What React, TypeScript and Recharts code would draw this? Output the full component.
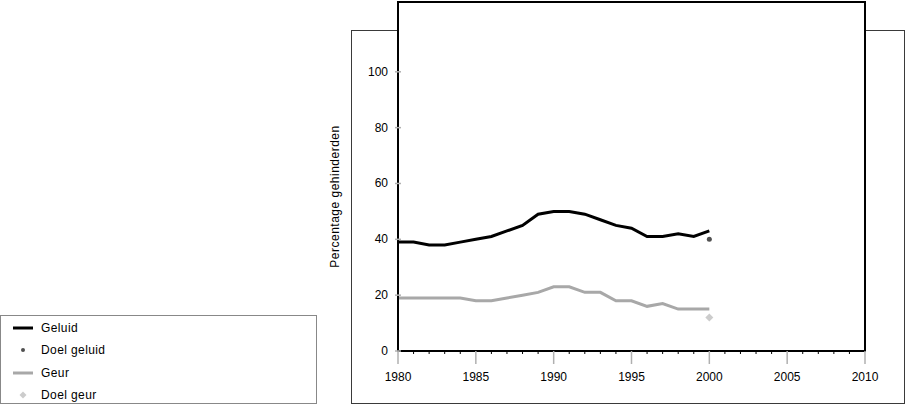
import React from 'react';
import {
  ComposedChart,
  Line,
  Scatter,
  XAxis,
  YAxis,
  ReferenceArea,
  Legend,
} from 'recharts';

const years = [1980, 1981, 1982, 1983, 1984, 1985, 1986, 1987, 1988, 1989, 1990, 1991, 1992, 1993, 1994, 1995, 1996, 1997, 1998, 1999, 2000];
const geluid = [39, 39, 38, 38, 39, 40, 41, 43, 45, 49, 50, 50, 49, 47, 45, 44, 41, 41, 42, 41, 43];
const geur = [19, 19, 19, 19, 19, 18, 18, 19, 20, 21, 23, 23, 21, 21, 18, 18, 16, 17, 15, 15, 15];
const doelGeluid = [{ year: 2000, value: 40 }];
const doelGeur = [{ year: 2000, value: 12 }];

const xTicks = [1980, 1981, 1982, 1983, 1984, 1985, 1986, 1987, 1988, 1989, 1990, 1991, 1992, 1993, 1994, 1995, 1996, 1997, 1998, 1999, 2000, 2001, 2002, 2003, 2004, 2005, 2006, 2007, 2008, 2009, 2010];
const xLabelTicks = [1980, 1985, 1990, 1995, 2000, 2005, 2010];
const yTicks = [0, 20, 40, 60, 80, 100];
const legendOrder = ['Geluid', 'Doel geluid', 'Geur', 'Doel geur'];

const data = years.map((y, i) => ({ year: y, geluid: geluid[i], geur: geur[i] }));

const FONT = '"Liberation Sans", Arial, sans-serif';

const XTick = (props: any) => {
  const { x, y, payload } = props;
  const major = xLabelTicks.includes(payload.value);
  if (major) {
    return (
      <g>
        <line x1={x} y1={y} x2={x} y2={y + 13} stroke="#b0b0b0" strokeWidth={1.5} />
        <text x={x} y={y + 30} textAnchor="middle" fontSize={12} fill="#000" fontFamily={FONT}>
          {payload.value}
        </text>
      </g>
    );
  }
  return <line x1={x} y1={y} x2={x} y2={y + 3} stroke="#000" strokeWidth={1} />;
};

const YTick = (props: any) => {
  const { x, y, payload } = props;
  return (
    <g>
      <line x1={x - 3} y1={y} x2={x + 3} y2={y} stroke="#b0b0b0" strokeWidth={1.5} />
      <text x={x - 10} y={y + 4} textAnchor="end" fontSize={12} fill="#000" fontFamily={FONT}>
        {payload.value}
      </text>
    </g>
  );
};

const Dot = (props: any) => {
  const { cx, cy } = props;
  return <circle cx={cx} cy={cy} r={2.5} fill="#505050" />;
};

const Diamond = (props: any) => {
  const { cx, cy } = props;
  const s = 4;
  return <polygon points={`${cx},${cy - s} ${cx + s},${cy} ${cx},${cy + s} ${cx - s},${cy}`} fill="#cccccc" />;
};

const LegendContent = (props: any) => {
  const items = [...(props.payload || [])].sort(
    (a: any, b: any) => legendOrder.indexOf(a.value) - legendOrder.indexOf(b.value)
  );
  return (
    <div
      style={{
        boxSizing: 'border-box',
        width: 317,
        height: 89,
        border: '1px solid #888',
        background: '#fff',
        fontFamily: FONT,
        fontSize: 12,
        paddingTop: 1,
      }}
    >
      {items.map((entry: any, i: number) => (
        <div key={i} style={{ height: 22.3, display: 'flex', alignItems: 'center' }}>
          <svg width={40} height={22} style={{ flex: 'none' }}>
            {entry.type === 'line' && <line x1={12} y1={11} x2={32} y2={11} stroke={entry.color} strokeWidth={3} />}
            {entry.type === 'circle' && <circle cx={22} cy={11} r={2} fill={entry.color} />}
            {entry.type === 'diamond' && (
              <polygon points="22,7.5 25.5,11 22,14.5 18.5,11" fill={entry.color} />
            )}
          </svg>
          <span style={{ color: '#000', letterSpacing: 0.4 }}>{entry.value}</span>
        </div>
      ))}
    </div>
  );
};

const YLabel = (props: any) => {
  const { viewBox } = props;
  const cx = viewBox.x - 15;
  const cy = viewBox.y + viewBox.height / 2 + 20;
  return (
    <text
      x={cx}
      y={cy}
      transform={`rotate(-90, ${cx}, ${cy})`}
      textAnchor="middle"
      dominantBaseline="central"
      fontSize={12}
      letterSpacing={0.5}
      fontFamily={FONT}
      fill="#000"
    >
      Percentage gehinderden
    </text>
  );
};

export default function App() {
  return (
    <div style={{ position: 'absolute', left: 0, top: 0, width: 905, height: 404, background: '#fff', fontFamily: FONT }}>
      <div
        style={{
          position: 'absolute',
          left: 351,
          top: 30,
          width: 554,
          height: 374,
          boxSizing: 'border-box',
          border: '1px solid #3a3a3a',
        }}
      />
      <div style={{ position: 'absolute', left: 0, top: 0 }}>
        <ComposedChart width={905} height={404} data={data} margin={{ top: 2, right: 40, bottom: 0, left: 350 }}>
          <ReferenceArea
            x1={1980}
            x2={2010}
            y1={0}
            y2={125}
            fill="#fff"
            fillOpacity={1}
            stroke="#000"
            strokeWidth={2}
          />
          <XAxis
            dataKey="year"
            type="number"
            domain={[1980, 2010]}
            ticks={xTicks}
            interval={0}
            tickSize={0}
            tickMargin={0}
            tickLine={false}
            tick={<XTick />}
            axisLine={{ stroke: '#000', strokeWidth: 2 }}
            height={53}
            allowDataOverflow
          />
          <YAxis
            type="number"
            domain={[0, 125]}
            ticks={yTicks}
            interval={0}
            tickSize={0}
            tickMargin={0}
            tickLine={false}
            tick={<YTick />}
            axisLine={{ stroke: '#000', strokeWidth: 2 }}
            width={48}
            allowDataOverflow
            label={<YLabel />}
          />
          <Line
            name="Geluid"
            dataKey="geluid"
            stroke="#000"
            strokeWidth={3}
            dot={false}
            activeDot={false}
            legendType="line"
            isAnimationActive={false}
          />
          <Scatter
            name="Doel geluid"
            data={doelGeluid}
            dataKey="value"
            fill="#505050"
            shape={<Dot />}
            legendType="circle"
            isAnimationActive={false}
          />
          <Line
            name="Geur"
            dataKey="geur"
            stroke="#a8a8a8"
            strokeWidth={3}
            dot={false}
            activeDot={false}
            legendType="line"
            isAnimationActive={false}
          />
          <Scatter
            name="Doel geur"
            data={doelGeur}
            dataKey="value"
            fill="#cccccc"
            shape={<Diamond />}
            legendType="diamond"
            isAnimationActive={false}
          />
          <Legend
            layout="horizontal"
            verticalAlign="middle"
            align="center"
            content={<LegendContent />}
            wrapperStyle={{ left: 0, top: 315, width: 317, height: 89 }}
          />
        </ComposedChart>
      </div>
    </div>
  );
}
